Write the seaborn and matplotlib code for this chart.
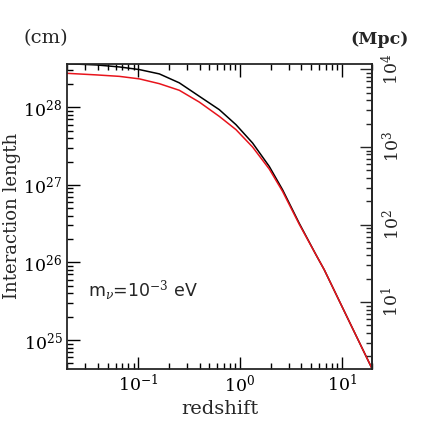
#!/usr/bin/env python3
"""
Interaction length vs redshift, cm on the left, Mpc on the right.
"""

import pandas as pd
import matplotlib
matplotlib.use('Agg')
import matplotlib.pyplot as plt
import seaborn as sns

# values (redshift, interaction length in cm)
z_black = [0.0197, 0.039, 0.0652, 0.1025, 0.1612, 0.2533, 0.398, 0.626, 0.9135, 1.33,
           1.941, 2.621, 3.824, 5.58, 6.73, 10.58, 20.0]
L_black = [3.66e28, 3.52e28, 3.32e28, 3.07e28, 2.70e28, 2.07e28, 1.39e28, 9.34e27,
           5.98e27, 3.47e27, 1.73e27, 8.67e26, 3.20e26, 1.26e26, 8.07e25, 2.36e25, 4.2e24]

z_red = [0.0197, 0.039, 0.0652, 0.1025, 0.1612, 0.2533, 0.398, 0.626, 0.9135, 1.33,
         1.941, 2.621, 3.824, 5.58, 6.73, 10.58, 20.0]
L_red = [2.75e28, 2.62e28, 2.51e28, 2.33e28, 2.02e28, 1.66e28, 1.17e28, 7.65e27,
         5.16e27, 3.08e27, 1.60e27, 8.25e26, 3.11e26, 1.26e26, 8.07e25, 2.36e25, 4.2e24]

series_names = ['black', 'red']
series_colors = ['black', '#e8141c']

# right axis ticks (Mpc)
mpc_ticks = [10, 100, 1000, 10000]

MPC_CM = 3.086e24

sns.set_theme(style='ticks')
plt.rcParams['font.family'] = ['DejaVu Serif']
plt.rcParams['mathtext.fontset'] = 'dejavuserif'

df = pd.concat([
    pd.DataFrame({'z': z_black, 'L': L_black, 'curve': 'black'}),
    pd.DataFrame({'z': z_red, 'L': L_red, 'curve': 'red'}),
])

fig = plt.figure(figsize=(4.36, 4.36), dpi=100)
ax = fig.add_axes([0.154, 0.154, 0.700, 0.700])
ax.set_xscale('log')
ax.set_yscale('log')

sns.lineplot(data=df, x='z', y='L', hue='curve', hue_order=series_names,
             palette=series_colors, linewidth=1.1, legend=False, ax=ax,
             sort=False, estimator=None)

ax.set_xlim(0.02, 20)
ax.set_ylim(4.25e24, 3.66e28)

ax.set_xlabel('redshift', fontsize=14, labelpad=3)
ax.set_ylabel('Interaction length', fontsize=13, labelpad=2)

for side in ['left', 'right', 'top', 'bottom']:
    ax.spines[side].set_linewidth(1.3)

ax.tick_params(which='both', direction='in', top=True, right=False, width=1.0,
               labelsize=12.5, colors='black')
ax.tick_params(which='major', length=9)
ax.tick_params(which='minor', length=4.5)

# right axis in Mpc
sec = ax.secondary_yaxis('right', functions=(lambda y: y / MPC_CM, lambda y: y * MPC_CM))
sec.set_yticks(mpc_ticks)
sec.tick_params(which='both', direction='in', width=1.0, labelsize=12.5, labelrotation=90)
sec.tick_params(which='major', length=9, pad=6)
sec.tick_params(which='minor', length=4.5)
sec.spines['right'].set_linewidth(1.3)
for lbl in sec.get_yticklabels():
    lbl.set_va('center')

ax.text(0.068, 0.256, r'm$_\nu$=10$^{-3}$ eV', transform=ax.transAxes,
        fontsize=12.5, va='center', ha='left', family='DejaVu Sans')

fig.text(23 / 436, 1 - 38 / 436, '(cm)', fontsize=14, va='center', ha='left')
fig.text(409 / 436, 1 - 39 / 436, '(Mpc)', fontsize=12.5, va='center', ha='right',
         fontweight='bold')

fig.savefig('out.png', dpi=100)
